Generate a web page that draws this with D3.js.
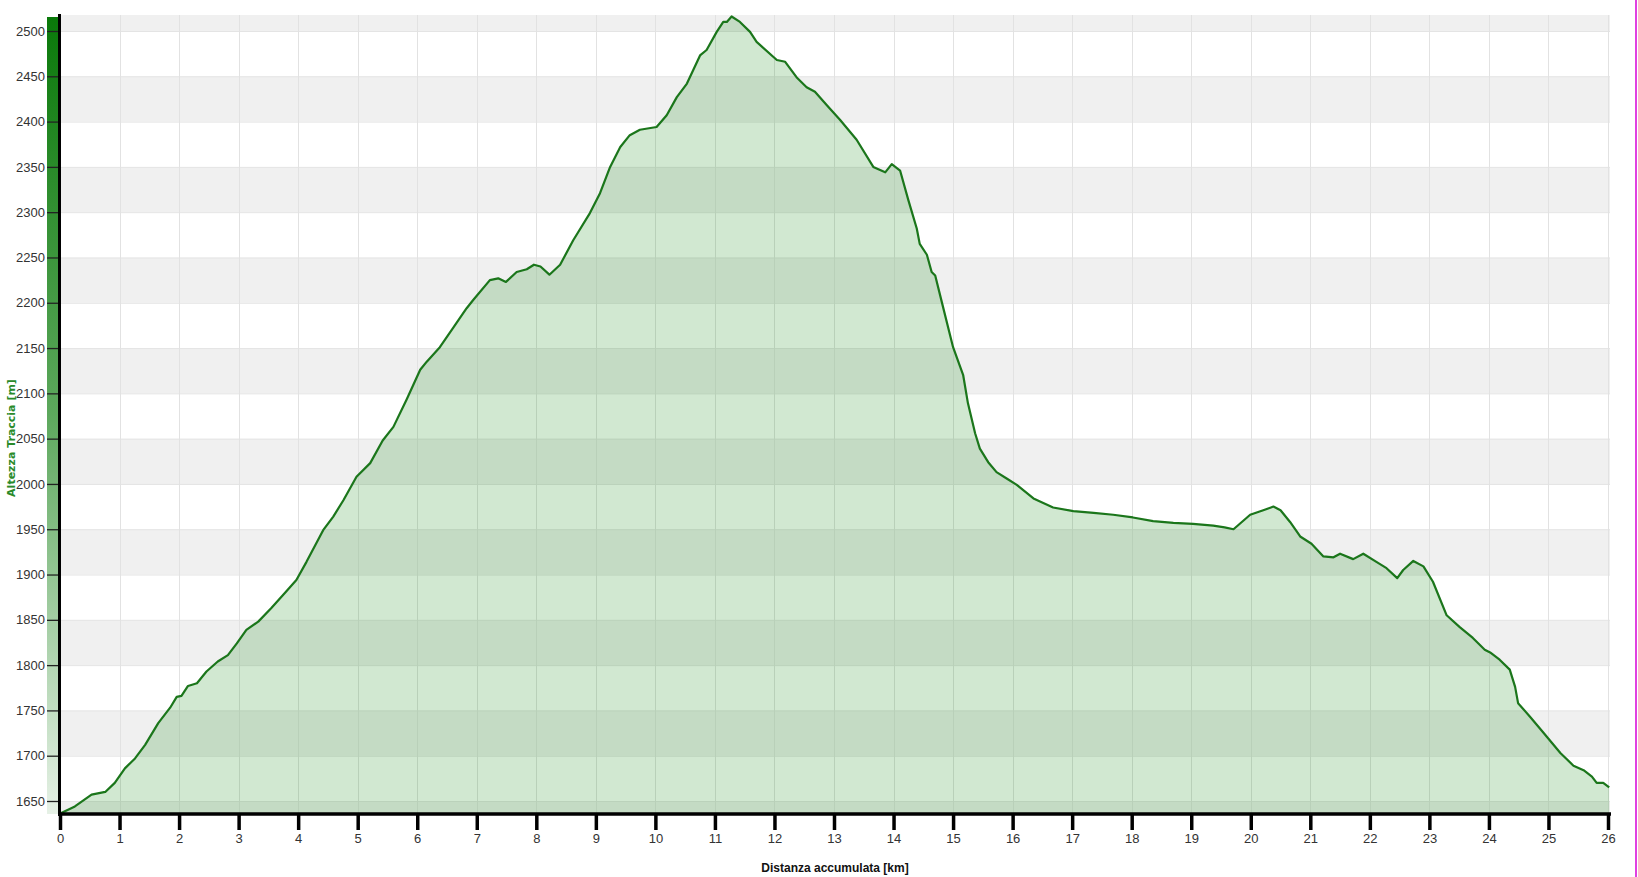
<!DOCTYPE html>
<meta charset="utf-8">
<script src="https://d3js.org/d3.v7.min.js"></script>
<style>
  body { margin: 0; background: #fff; }
</style>
<div id="chart"></div>
<script>

// distance along track [km]
var distKm = [0.00,0.03,0.25,0.53,0.76,0.92,1.09,1.26,1.43,1.65,1.85,1.96,2.04,2.15,2.30,2.46,2.65,2.82,2.97,
  3.13,3.33,3.55,3.78,3.97,4.14,4.42,4.59,4.76,4.98,5.21,5.42,5.60,5.82,6.05,6.16,6.38,6.60,6.83,6.94,
  7.22,7.36,7.49,7.67,7.84,7.96,8.07,8.22,8.40,8.62,8.90,9.07,9.24,9.41,9.57,9.74,10.02,10.19,10.36,10.53,
  10.75,10.86,11.03,11.14,11.20,11.28,11.42,11.59,11.70,12.04,12.18,12.37,12.54,12.68,12.88,13.10,13.38,
  13.66,13.86,13.97,14.11,14.25,14.39,14.44,14.56,14.64,14.70,14.81,15.00,15.17,15.25,15.37,15.45,15.59,
  15.73,15.90,16.07,16.35,16.68,17.02,17.36,17.69,18.02,18.36,18.70,19.03,19.37,19.56,19.71,19.99,20.21,
  20.38,20.50,20.66,20.83,21.02,21.22,21.39,21.50,21.72,21.89,22.11,22.28,22.46,22.56,22.73,22.90,23.06,
  23.29,23.51,23.73,23.93,24.02,24.18,24.35,24.44,24.49,24.69,24.92,25.20,25.42,25.59,25.73,25.81,25.92,26.02];

// elevation [m]
var elevM = [1636,1637,1644,1657,1660,1670,1686,1697,1712,1736,1753,1765,1766,1777,1780,1793,1804,1811,1824,
  1839,1848,1863,1880,1894,1914,1949,1964,1982,2008,2023,2048,2063,2093,2126,2135,2151,2172,2194,2203,
  2225,2227,2223,2234,2237,2242,2240,2231,2242,2269,2299,2321,2350,2372,2385,2391,2394,2407,2427,2442,
  2473,2479,2499,2510,2510,2516,2510,2499,2488,2468,2466,2449,2438,2433,2418,2402,2380,
  2350,2344,2353,2346,2313,2282,2265,2253,2234,2230,2201,2151,2120,2089,2056,2039,2024,
  2013,2006,1999,1984,1974,1970,1968,1966,1963,1959,1957,1956,1954,1952,1950,1966,1971,
  1975,1971,1958,1942,1934,1920,1919,1923,1917,1923,1914,1907,1896,1905,1915,1909,1892,
  1855,1842,1830,1817,1814,1806,1795,1776,1758,1743,1725,1703,1689,1684,1677,1670,1670,1665];

var xTicks = d3.range(0, 27, 1);
var yTicks = d3.range(1650, 2501, 50);

var xTitle = "Distanza accumulata [km]";
var yTitle = "Altezza Traccia [m]";

var width = 1638, height = 877;
var plotLeft = 60, plotRight = 1610, plotTop = 15, plotBottom = 814;
var labelFont = "Tahoma, 'Liberation Sans', Arial, sans-serif";

var svg = d3.select("#chart")
  .append("svg")
  .attr("width", width)
  .attr("height", height);

var x = d3.scaleLinear().domain([0, 26]).range([60, 1608]);
var y = d3.scaleLinear().domain([1650, 2500]).range([801, 31]);

var data = distKm.map(function(d, i) { return { km: d, m: elevM[i] }; });

// clip to plot area
svg.append("clipPath").attr("id", "plotclip")
  .append("rect")
  .attr("x", plotLeft).attr("y", plotTop)
  .attr("width", plotRight - plotLeft).attr("height", plotBottom - plotTop);

var plot = svg.append("g").attr("clip-path", "url(#plotclip)");

// alternating bands
var bandStarts = d3.range(1600, 2550, 50);
plot.selectAll(".band")
  .data(bandStarts)
  .enter()
  .append("rect")
  .attr("class", "band")
  .attr("x", plotLeft)
  .attr("width", plotRight - plotLeft)
  .attr("y", function(d) { return y(d + 50); })
  .attr("height", function(d) { return y(d) - y(d + 50); })
  .attr("fill", function(d) { return (d / 50) % 2 === 0 ? "#f0f0f0" : "#ffffff"; });

// grid
plot.selectAll(".hgrid")
  .data(yTicks)
  .enter()
  .append("line")
  .attr("x1", plotLeft).attr("x2", plotRight)
  .attr("y1", function(d) { return y(d) + 0.5; })
  .attr("y2", function(d) { return y(d) + 0.5; })
  .attr("stroke", "#e4e4e4");

plot.selectAll(".vgrid")
  .data(xTicks)
  .enter()
  .append("line")
  .attr("y1", plotTop).attr("y2", plotBottom)
  .attr("x1", function(d) { return Math.round(x(d)) + 0.5; })
  .attr("x2", function(d) { return Math.round(x(d)) + 0.5; })
  .attr("stroke", "#e2e2e2");

// area + line
var area = d3.area()
  .x(function(d) { return x(d.km); })
  .y0(plotBottom)
  .y1(function(d) { return y(d.m); });

var line = d3.line()
  .x(function(d) { return x(d.km); })
  .y(function(d) { return y(d.m); });

plot.append("path")
  .datum(data)
  .attr("d", area)
  .attr("fill", "rgb(0,128,0)")
  .attr("fill-opacity", 0.18);

plot.append("path")
  .datum(data)
  .attr("d", line)
  .attr("fill", "none")
  .attr("stroke", "#1b761b")
  .attr("stroke-width", 2.2)
  .attr("stroke-linejoin", "round");

// green gradient bar left of y axis
var grad = svg.append("defs").append("linearGradient")
  .attr("id", "ybar").attr("x1", 0).attr("y1", 0).attr("x2", 0).attr("y2", 1);
grad.append("stop").attr("offset", "0%").attr("stop-color", "#0a790a");
grad.append("stop").attr("offset", "50%").attr("stop-color", "#5da85d");
grad.append("stop").attr("offset", "100%").attr("stop-color", "#e6f1e6");

svg.append("rect")
  .attr("x", 47).attr("y", 17)
  .attr("width", 12).attr("height", plotBottom - 17)
  .attr("fill", "url(#ybar)");

// y axis
var yAxis = d3.axisLeft(y).tickValues(yTicks).tickSize(13).tickPadding(2)
  .tickFormat(d3.format("d"));
var gy = svg.append("g")
  .attr("transform", "translate(" + plotLeft + ",0)")
  .call(yAxis);
gy.select(".domain").remove();
gy.selectAll(".tick line").attr("stroke", "#222").attr("stroke-width", 1.3);
gy.selectAll(".tick text")
  .attr("font-size", 13)
  .attr("font-family", labelFont)
  .attr("fill", "#333");

svg.append("line")
  .attr("x1", 59.5).attr("x2", 59.5)
  .attr("y1", 14).attr("y2", plotBottom + 2)
  .attr("stroke", "#000").attr("stroke-width", 3);

// x axis
var xAxis = d3.axisBottom(x).tickValues(xTicks).tickSize(16).tickPadding(4)
  .tickFormat(d3.format("d"));
var gx = svg.append("g")
  .attr("transform", "translate(0," + plotBottom + ")")
  .call(xAxis);
gx.select(".domain").remove();
gx.selectAll(".tick line").attr("stroke", "#000").attr("stroke-width", 3.5);
gx.selectAll(".tick text")
  .attr("font-size", 13)
  .attr("font-family", labelFont)
  .attr("fill", "#333");

svg.append("line")
  .attr("x1", 58).attr("x2", plotRight + 1)
  .attr("y1", plotBottom).attr("y2", plotBottom)
  .attr("stroke", "#000").attr("stroke-width", 3.5);

// titles
svg.append("text")
  .attr("x", 835).attr("y", 872)
  .attr("text-anchor", "middle")
  .style("font-family", labelFont)
  .style("font-size", "12px")
  .style("font-weight", "bold")
  .attr("fill", "#111")
  .text(xTitle);

svg.append("text")
  .attr("transform", "translate(15,438) rotate(-90)")
  .attr("text-anchor", "middle")
  .style("font-family", "'DejaVu Sans', Verdana, sans-serif")
  .style("font-size", "11px")
  .style("font-weight", "bold")
  .attr("fill", "#2a8a2a")
  .text(yTitle);

// magenta frame edge on the right
svg.append("line")
  .attr("x1", 1636).attr("x2", 1636)
  .attr("y1", 0).attr("y2", height)
  .attr("stroke", "#e040e0").attr("stroke-width", 2);

</script>
